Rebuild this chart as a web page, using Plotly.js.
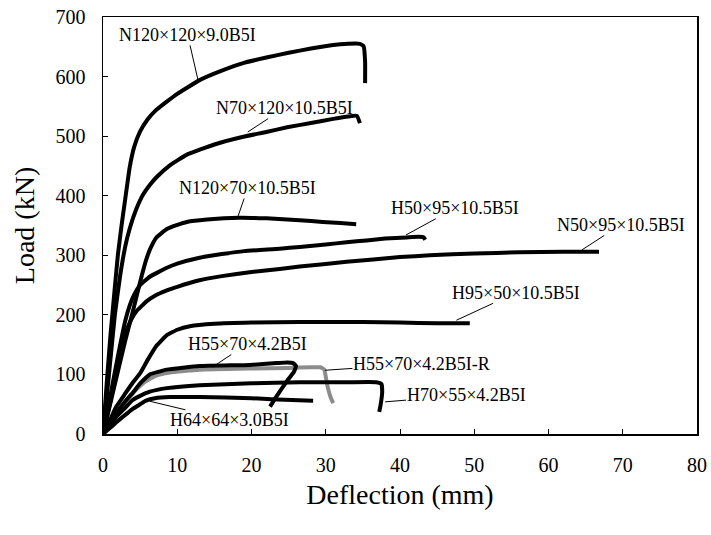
<!DOCTYPE html>
<html>
<head>
<meta charset="utf-8">
<script src="https://cdn.plot.ly/plotly-3.0.1.min.js"></script>
<style>html,body{margin:0;padding:0;background:#fff;}#chart{width:711px;height:535px;}</style>
</head>
<body>
<div id="chart"></div>
<script>
// Specimen names
const names = [
  "N120×120×9.0B5I", "N70×120×10.5B5I", "N120×70×10.5B5I", "H50×95×10.5B5I",
  "N50×95×10.5B5I", "H95×50×10.5B5I", "H55×70×4.2B5I-R", "H55×70×4.2B5I",
  "H70×55×4.2B5I", "H64×64×3.0B5I"
];

// Deflection (mm) / Load (kN) per specimen
const x_N120x120 = [0,0.5,1.0,1.4,2.0,2.5,3.0,3.6,4.2,5.0,6.0,7.0,8.5,10,13,16,19,22,25,28,31,33,34.6,35.1,35.3,35.3];
const y_N120x120 = [0,85,165,220,300,350,395,448,482,508,528,542,557,571,594,610,623,632,640,647,653,655,655,651,625,589];

const x_N70x120 = [0,0.8,1.6,2.3,3.0,3.6,4.5,5.4,6.3,7.2,9,11.3,15,18.9,22,24.8,28,31,33,34.2,34.6];
const y_N70x120 = [0,100,200,265,315,345,378,402,418,431,451,469,486,499,507,515,522,529,533,534,522];

const x_N120x70 = [0,1,2,3,4,4.6,5.2,5.8,6.4,7.2,8.6,10,11.3,14,18.4,22,26.5,29.6,32,34.1];
const y_N120x70 = [0,52,105,157,205,235,265,292,312,330,344,351,356,360,363,362,359,356,354,352];

const x_H50x95 = [0,1,2,3,3.6,4.2,5,6.3,8.6,10,13,16,19,23.8,26.5,30,32.8,35.5,38,40.9,42.5,43.2,43.4];
const y_H50x95 = [0,65,130,190,216,234,250,264,279,286,296,302,307,311,314,318,322,325,328,330,331,330,326];

const x_N50x95 = [0,1,2,3,3.8,4.5,5.9,7,8.6,10,13,16,20,23.8,26.5,32.8,40,44,50,56,62,66.8];
const y_N50x95 = [0,55,115,168,192,206,223,232,241,247,258,265,272,277,281,289,297,300,303,305,306,306];

const x_H95x50 = [0,1,1.8,3,4,5,6,7.2,8.6,10,11.7,15,20,26.5,35,40,45,49.4];
const y_H95x50 = [0,25,46,68,86,102,124,148,166,175,181,185,187,188,188,187,186,186];

const x_H55x70R = [0,1,2,3,4,5.5,7,9,13,20,25,28,29.3,29.8,30.2,30.7,31];
const y_H55x70R = [0,18,36,53,68,86,97,103,108,110,111,112,112,108,82,60,52];

const x_H55x70 = [0,1,1.8,3,4,5,6.3,8.6,13,19.8,23.4,24.8,25.6,26.0,25.7,24.9,24.0,23.1,22.5];
const y_H55x70 = [0,20,35,55,69,85,100,108,114,116,119,120,119,114,104,91,75,58,46];

const x_H70x55 = [0,1,1.8,3,4,5,6.3,8.6,13,20,26.5,33,36.8,37.5,37.6,37.4,37.2];
const y_H70x55 = [0,16,29,44,57,64,71,77,82,85,87,87,87,84,70,50,37];

const x_H64x64 = [0,1,2,3,4,5,5.8,7,9,13,20,25.4,28.3];
const y_H64x64 = [0,11,22,32,42,50,56,60,62,62,60,57,56];

const xs = [x_N120x120,x_N70x120,x_N120x70,x_H50x95,x_N50x95,x_H95x50,x_H55x70R,x_H55x70,x_H70x55,x_H64x64];
const ys = [y_N120x120,y_N70x120,y_N120x70,y_H50x95,y_N50x95,y_H95x50,y_H55x70R,y_H55x70,y_H70x55,y_H64x64];
const colors = ["#000","#000","#000","#000","#000","#000","#8c8c8c","#000","#000","#000"];

// Label anchor points on the curves and label centres (data units)
const ptX = [12.8,19.5,18.2,40.8,64.5,47.6,29.9,14.7,38.0,6.3];
const ptY = [594,507,366,334,309,191,107,112,54,55];
const lbX = [11.4,24.4,19.5,47.4,69.7,55.6,42.9,19.4,48.9,17.0];
const lbY = [670,547,413,379,351,237,118,151,65,23];

const FONT = "'Liberation Serif','Times New Roman',Times,serif";

const traces = names.map((n,i)=>({
  type:'scatter', mode:'lines', name:n, x:xs[i], y:ys[i],
  line:{color:colors[i], width:4, shape:'spline', smoothing:0.35},
  hoverinfo:'skip'
}));

const annotations = names.map((n,i)=>({
  x:ptX[i], y:ptY[i], xref:'x', yref:'y',
  ax:lbX[i], ay:lbY[i], axref:'x', ayref:'y',
  text:n, showarrow:true, arrowhead:0, arrowwidth:1, arrowcolor:'#000',
  standoff:0, startstandoff:0, borderpad:0,
  font:{family:FONT, size:18, color:'#000'}
}));

const axisBase = {
  showline:true, linecolor:'#000', linewidth:1.5, mirror:true,
  ticks:'inside', ticklen:5, tickwidth:1, tickcolor:'#000',
  showgrid:false, zeroline:false,
  tickfont:{family:FONT, size:20, color:'#000'}
};

const layout = {
  width:711, height:535,
  margin:{l:103, r:14, t:17, b:101},
  paper_bgcolor:'#fff', plot_bgcolor:'#fff',
  showlegend:false,
  font:{family:FONT, color:'#000'},
  xaxis:Object.assign({}, axisBase, {
    range:[0,80], tick0:0, dtick:10, ticklabelstandoff:12,
    title:{text:'Deflection (mm)', font:{family:FONT, size:28, color:'#000'}, standoff:10}
  }),
  yaxis:Object.assign({}, axisBase, {
    range:[0,700], tick0:0, dtick:100, ticklabelstandoff:12,
    title:{text:'Load (kN)', font:{family:FONT, size:28, color:'#000'}, standoff:12}
  }),
  annotations:annotations
};

Plotly.newPlot('chart', traces, layout, {staticPlot:true, displayModeBar:false});
</script>
</body>
</html>
